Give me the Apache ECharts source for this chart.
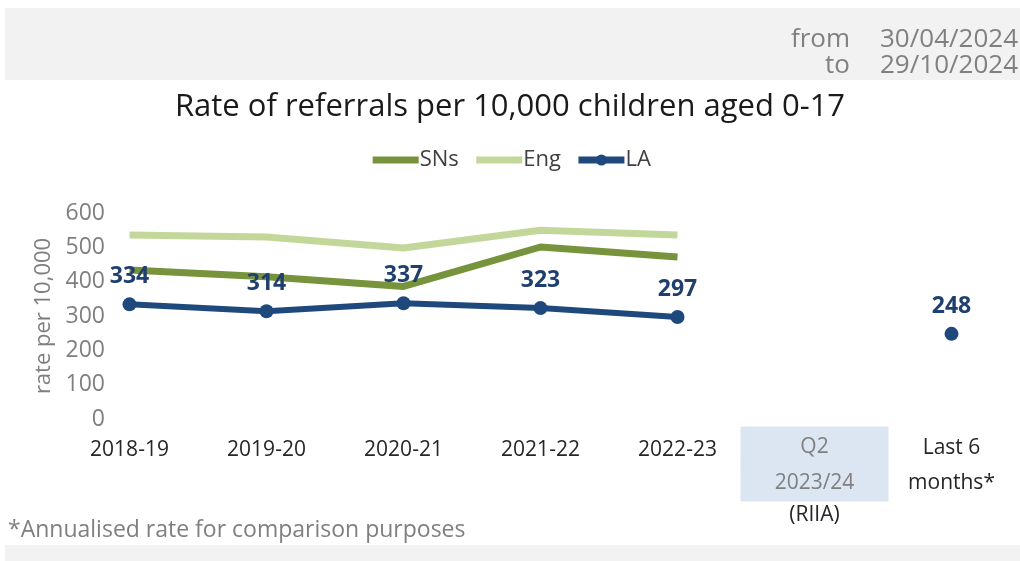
<!DOCTYPE html>
<html><head><meta charset="utf-8">
<script src="https://cdn.jsdelivr.net/npm/echarts@6/dist/echarts.min.js"></script>
<style>html,body{margin:0;padding:0;background:#fff}#c{width:1020px;height:561px}</style>
</head><body><div id="c"></div>
<script>
const categories = ['2018-19','2019-20','2020-21','2021-22','2022-23','Q2 2023/24','Last 6 months*'];
const snsValues = [434, 414, 386, 501, 472, null, null];
const engValues = [536, 530, 498, 550, 536, null, null];
const laValues  = [334, 314, 337, 323, 297, null, 248];
const yTicks = [0, 600, 100];
const FONT = '"Open Sans", "Noto Sans", sans-serif';

const chart = echarts.init(document.getElementById('c'));
chart.setOption({
  backgroundColor: '#ffffff',
  animation: false,
  graphic: [
    {type:'rect', shape:{x:5,y:8,width:1015,height:72}, style:{fill:'#f2f2f2'}, z:-1},
    {type:'rect', shape:{x:5,y:545,width:1015,height:16}, style:{fill:'#f2f2f2'}, z:-1},
    {type:'text', x:850, y:40, style:{text:'from', fill:'#808080', font:'26px '+FONT, align:'right', verticalAlign:'middle'}},
    {type:'text', x:1018, y:40, style:{text:'30/04/2024', fill:'#808080', font:'26px '+FONT, align:'right', verticalAlign:'middle'}},
    {type:'text', x:850, y:66, style:{text:'to', fill:'#808080', font:'26px '+FONT, align:'right', verticalAlign:'middle'}},
    {type:'text', x:1018, y:66, style:{text:'29/10/2024', fill:'#808080', font:'26px '+FONT, align:'right', verticalAlign:'middle'}},
    {type:'text', x:8, y:530, style:{text:'*Annualised rate for comparison purposes', fill:'#7f7f7f', font:'23px '+FONT, align:'left', verticalAlign:'middle'}}
  ],
  title: {
    text: 'Rate of referrals per 10,000 children aged 0-17',
    left: 'center', top: 87,
    textStyle: {fontFamily: FONT, fontSize: 31, fontWeight: 'normal', color: '#1a1a1a'}
  },
  legend: {
    top: 144, left: 'center',
    itemWidth: 46, itemHeight: 14, itemGap: 14,
    lineStyle: {width: 7},
    textStyle: {fontFamily: FONT, fontSize: 22, color: '#404040', padding: [0,0,0,-4]},
    data: [
      {name: 'SNs', itemStyle: {opacity: 0}},
      {name: 'Eng', itemStyle: {opacity: 0}},
      {name: 'LA'}
    ]
  },
  grid: {left: 61, right: -2, top: 213, bottom: 142},
  xAxis: {
    type: 'category', data: categories, boundaryGap: true,
    axisLine: {show: false}, axisTick: {show: false},
    axisLabel: {
      interval: 0, margin: 9,
      fontFamily: FONT, fontSize: 21, color: '#262626', lineHeight: 35,
      formatter: function (v) {
        if (v === 'Q2 2023/24') return '{box|Q2}\n{box|2023/24}\n{r|(RIIA)}';
        if (v === 'Last 6 months*') return '{n|Last 6}\n{n|months*}';
        return '{s|' + v + '}';
      },
      rich: {
        box: {backgroundColor: '#dce6f2', width: 148, height: 36, lineHeight: 36, align: 'center', color: '#7f7f7f', fontFamily: FONT, fontSize: 21, padding: [3,0,0,0]},
        r: {color: '#262626', fontFamily: FONT, fontSize: 21, lineHeight: 30},
        n: {color: '#262626', fontFamily: FONT, fontSize: 21, lineHeight: 35, padding: [6,0,0,0]},
        s: {color: '#262626', fontFamily: FONT, fontSize: 21, lineHeight: 35, padding: [10,0,0,0]}
      }
    }
  },
  yAxis: {
    type: 'value', min: yTicks[0], max: yTicks[1], interval: yTicks[2],
    offset: -48,
    name: 'rate per 10,000', nameLocation: 'middle', nameGap: 50, nameRotate: 90,
    nameTextStyle: {fontFamily: FONT, fontSize: 22, color: '#7f7f7f'},
    axisLine: {show: false}, axisTick: {show: false}, splitLine: {show: false},
    axisLabel: {margin: 4, fontFamily: FONT, fontSize: 23, color: '#7f7f7f'}
  },
  series: [
    {name: 'SNs', type: 'line', data: snsValues, symbol: 'none', lineStyle: {width: 7, color: '#77933c'}, itemStyle: {color: '#77933c'}, z: 2},
    {name: 'Eng', type: 'line', data: engValues, symbol: 'none', lineStyle: {width: 7, color: '#c4d79b'}, itemStyle: {color: '#c4d79b'}, z: 1},
    {name: 'LA', type: 'line', data: laValues, symbol: 'circle', symbolSize: 14, showSymbol: true,
     connectNulls: false,
     lineStyle: {width: 6, color: '#1f497d'}, itemStyle: {color: '#1f497d'}, z: 3,
     label: {show: true, position: 'top', distance: 9, fontFamily: FONT, fontSize: 23, fontWeight: 'bold', color: '#1f3f6e'}}
  ]
});
</script></body></html>
